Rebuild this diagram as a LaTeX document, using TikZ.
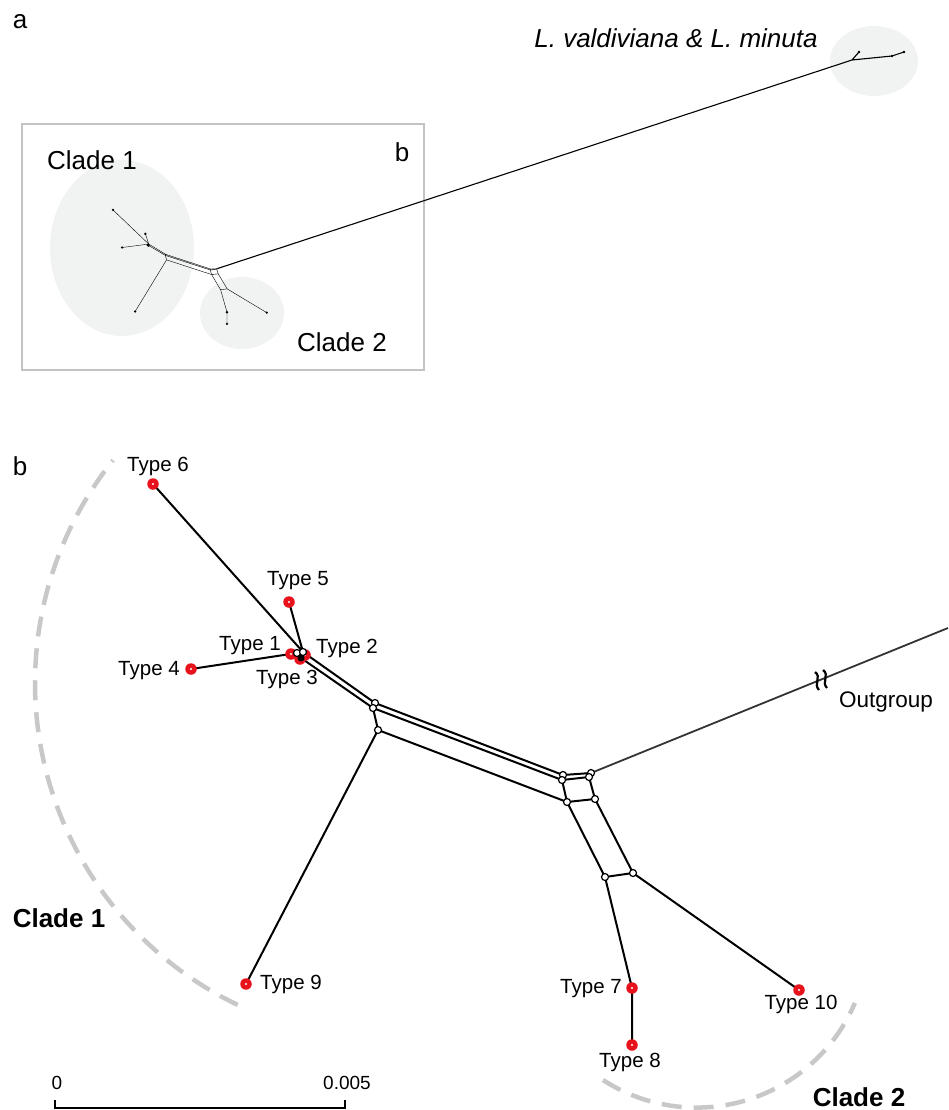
\documentclass[tikz,border=0pt]{standalone}
\usepackage{fontspec}
\setmainfont{Liberation Sans}
\usetikzlibrary{backgrounds,calc}
\definecolor{reddot}{RGB}{232,18,28}
\definecolor{shade}{RGB}{240,243,241}
\definecolor{boxgray}{RGB}{195,195,195}
\definecolor{dashgray}{RGB}{200,200,200}
\definecolor{thin}{RGB}{40,40,40}

% network edges shared by both panels
\newcommand\netedges[2]{%
  \draw[#2] (#1t4.center) -- (#1k1.center)
    (#1t6.center) -- (#1k2.center)
    (#1t5.center) -- (#1k2.center)
    (#1k1.center) -- (#1k2.center)
    (#1k1.center) -- (#1k3.center)
    (#1k2.center) -- (#1p1.center)
    (#1k3.center) -- (#1p2.center)
    (#1p1.center) -- (#1p2.center)
    (#1p1.center) -- (#1a1.center)
    (#1p2.center) -- (#1a2.center)
    (#1p2.center) -- (#1q.center)
    (#1q.center) -- (#1c1.center)
    (#1q.center) -- (#1t9.center)
    (#1a1.center) -- (#1a2.center)
    (#1b1.center) -- (#1b2.center)
    (#1a1.center) -- (#1b1.center)
    (#1a2.center) -- (#1b2.center)
    (#1a2.center) -- (#1c1.center)
    (#1b2.center) -- (#1c2.center)
    (#1c1.center) -- (#1c2.center)
    (#1c1.center) -- (#1d1.center)
    (#1c2.center) -- (#1d2.center)
    (#1d1.center) -- (#1d2.center)
    (#1d1.center) -- (#1t7.center)
    (#1t7.center) -- (#1t8.center)
    (#1d2.center) -- (#1t10.center);}

\begin{document}
\begin{tikzpicture}[x=1pt,y=-1pt,
  hub/.style={circle,draw=black,fill=white,line width=1.2pt,minimum size=7pt,inner sep=0pt},
  hubfull/.style={circle,fill=black,minimum size=7pt,inner sep=0pt},
  tipdot/.style={circle,fill=reddot,minimum size=11.5pt,inner sep=0pt,
    path picture={\fill[white] (path picture bounding box.center) circle (1.1pt);}},
  lab/.style={font=\fontsize{20.5}{24}\selectfont,inner sep=0pt},
  biglab/.style={font=\fontsize{26}{30}\selectfont,inner sep=0pt},
  boldlab/.style={font=\fontsize{26}{30}\selectfont\bfseries,inner sep=0pt},
  netb/.style={line width=2pt,black},
  neta/.style={line width=1pt,thin},
  cladearc/.style={draw=dashgray,line width=4.5pt,dash pattern=on 20pt off 12pt},
  blob/.style={fill=shade}]
\useasboundingbox (0,0) rectangle (948,1110);

% ---------------- panel a ----------------
\node[biglab] (la) at (20,22) {a};
\fill[blob] (122,248) ellipse [x radius=72, y radius=88];
\fill[blob] (242,313) ellipse [x radius=42, y radius=36];
\fill[blob] (874,61) ellipse [x radius=44, y radius=35];
\draw[boxgray,line width=2pt] (22,124) rectangle (424,370);
\node[biglab] (lbbox) at (402,152) {b};
\node[biglab] (lc1a) at (92,160) {Clade 1};
\node[biglab] (lc2a) at (342,342) {Clade 2};
\node[biglab,font=\fontsize{26}{30}\selectfont\itshape] (lval) at (676,38) {L. valdiviana \& L. minuta};

\begin{scope}[shift={(76.6,111.7)},xscale=0.238,yscale=0.203]
  \coordinate (at6) at (153,484);
  \coordinate (at5) at (289,602);
  \coordinate (at4) at (191,669);
  \coordinate (ak1) at (297,653);
  \coordinate (ak2) at (303,652);
  \coordinate (ak3) at (301,658);
  \coordinate (ap1) at (375,703);
  \coordinate (ap2) at (373,708);
  \coordinate (aq) at (378,730);
  \coordinate (aa1) at (563,775);
  \coordinate (aa2) at (562,780);
  \coordinate (ab1) at (591,773);
  \coordinate (ab2) at (589,777);
  \coordinate (ac1) at (567,802);
  \coordinate (ac2) at (595,799);
  \coordinate (ad1) at (605,877);
  \coordinate (ad2) at (633,873);
  \coordinate (at9) at (246,984);
  \coordinate (at7) at (632,988);
  \coordinate (at8) at (632,1045);
  \coordinate (at10) at (799,990);
\end{scope}
\netedges{a}{neta}
\coordinate (ao0) at (852,60);
\coordinate (ao1) at (859,52);
\coordinate (ao2) at (892,56);
\coordinate (ao3) at (904,52);
\draw[neta,line width=1.1pt] (ab1.center) -- (ao0) (ao0) -- (ao1) (ao0) -- (ao2) -- (ao3);
\foreach \p in {at6,at5,at4,at9,at7,at8,at10,ao1,ao2,ao3}
  \fill[thin] (\p) circle (1.3pt);
\fill[black] (ak3) circle (1.7pt);

% ---------------- panel b ----------------
\node[biglab] (lb) at (20,466) {b};
\draw[cladearc] (392,683) ++(115.6:357) arc[start angle=115.6,end angle=218.6,radius=357];
\draw[cladearc] (696.5,935.4) ++(122.9:172.2) arc[start angle=122.9,end angle=23.1,radius=172.2];
\node[boldlab] (lc1) at (59,918) {Clade 1};
\node[boldlab] (lc2) at (859,1097) {Clade 2};

\node[tipdot] (bt6) at (153,484) {};
\node[tipdot] (bt5) at (289,602) {};
\node[tipdot] (bt4) at (191,669) {};
\node[tipdot] (bt1) at (291,654) {};
\node[tipdot] (bt2) at (305,655) {};
\node[tipdot] (bt3) at (300,659) {};
\node[tipdot] (bt9) at (246,984) {};
\node[tipdot] (bt7) at (632,988) {};
\node[tipdot] (bt8) at (632,1045) {};
\node[tipdot] (bt10) at (799,990) {};

\node[hub] (bk1) at (297,653) {};
\node[hub] (bk2) at (303,652) {};
\node[hubfull] (bk3) at (301,658) {};
\node[hub] (bp1) at (375,703) {};
\node[hub] (bp2) at (373,708) {};
\node[hub] (bq) at (378,730) {};
\node[hub] (ba1) at (563,775) {};
\node[hub] (ba2) at (562,780) {};
\node[hub] (bb1) at (591,773) {};
\node[hub] (bb2) at (589,777) {};
\node[hub] (bc1) at (567,802) {};
\node[hub] (bc2) at (595,799) {};
\node[hub] (bd1) at (605,877) {};
\node[hub] (bd2) at (633,873) {};
\coordinate (bog) at (948,628);

\begin{scope}[on background layer]
  \netedges{b}{netb}
  \draw[line width=1.8pt,black!80] (bb1.center) -- (bog);
\end{scope}

% break mark on the outgroup branch
\draw[line width=2.2pt] (815,672) .. controls (822,677) and (813,684) .. (819,690);
\draw[line width=2.2pt] (823,670) .. controls (830,675) and (821,682) .. (827,688);

\node[lab] (l6) at (158,466) {Type 6};
\node[lab] (l5) at (298,581) {Type 5};
\node[lab] (l1) at (250,646) {Type 1};
\node[lab] (l2) at (347,648) {Type 2};
\node[lab] (l3) at (287,679) {Type 3};
\node[lab] (l4) at (149,671) {Type 4};
\node[lab] (l9) at (291,984) {Type 9};
\node[lab] (l7) at (591,989) {Type 7};
\node[lab] (l10) at (801,1004) {Type 10};
\node[lab] (l8) at (630,1062) {Type 8};
\node[lab,font=\fontsize{22.5}{26}\selectfont] (lout) at (886,702) {Outgroup};

% scale bar
\coordinate (sb0) at (55,1100);
\coordinate (sb1) at (345,1100);
\draw[line width=1.3pt] (sb0) -- ++(0,8) -- ($(sb1)+(0,8)$) -- (sb1);
\node[lab,font=\fontsize{19}{23}\selectfont] (s0) at (57,1083) {0};
\node[lab,font=\fontsize{19}{23}\selectfont] (s1) at (347,1083) {0.005};
\end{tikzpicture}
\end{document}
